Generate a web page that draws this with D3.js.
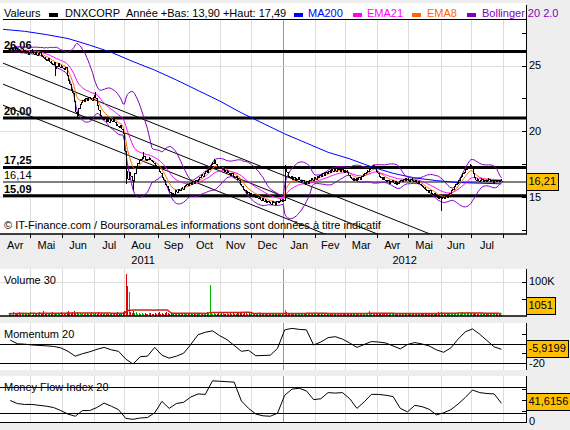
<!DOCTYPE html>
<html><head><meta charset="utf-8">
<script src="https://cdn.jsdelivr.net/npm/d3@7"></script>
<style>
html,body{margin:0;padding:0;background:#eeeeee;}
svg{display:block;font-family:"Liberation Sans",Arial,sans-serif;}
</style></head><body>
<svg id="c" width="570" height="430"></svg>
<script>
// ---------------- DATA ----------------
const calendarStart = "2011-04-05", calendarEnd = "2012-08-23", priceStart = "2011-04-11";
const ticker = "DNXCORP";
const closes = [
26.2,26.3,26.1,26.2,26.4,26.3,26.1,26.2,26.0,26.1,
26.2,26.0,26.1,25.9,26.0,26.2,26.1,25.9,26.0,25.8,
25.9,26.0,25.8,25.7,25.6,25.5,25.4,25.6,25.3,25.2,
25.1,25.3,24.8,25.0,25.2,24.9,25.0,24.8,24.7,24.9,
24.3,23.9,23.6,23.2,22.9,22.3,21.5,21.2,21.8,22.1,
22.2,22.4,22.3,22.5,22.4,22.6,22.5,22.4,22.6,22.7,
22.5,22.0,21.6,21.2,21.0,20.9,21.1,20.8,21.0,20.7,
20.9,20.8,21.0,20.7,20.5,20.4,20.3,20.5,20.2,19.9,
18.5,17.0,16.4,16.9,16.6,16.3,16.2,16.8,17.3,17.6,
17.8,17.9,18.0,18.1,17.9,17.8,17.9,18.0,17.8,17.7,
17.6,17.4,17.3,17.2,17.0,16.8,16.5,16.3,16.0,15.8,
15.6,15.4,15.1,15.3,15.2,15.5,15.4,15.6,15.5,15.7,
15.6,15.8,15.9,16.0,15.9,16.1,16.0,16.2,16.1,16.3,
16.2,16.4,16.5,16.7,16.6,16.8,17.0,16.9,17.1,17.3,
17.5,17.6,17.8,17.5,17.3,17.2,17.3,17.1,17.2,17.0,
16.9,17.0,16.8,16.7,16.8,16.6,16.5,16.6,16.4,16.3,
16.0,15.8,15.6,15.5,15.3,15.4,15.2,15.3,15.1,15.2,
15.0,15.1,14.9,15.0,14.8,14.9,14.7,14.8,14.6,14.7,
14.6,14.5,14.7,14.6,14.5,14.7,14.6,14.7,14.8,14.7,
14.8,17.2,16.9,16.6,16.5,16.6,16.4,16.5,16.3,16.4,
16.5,16.3,16.2,16.3,16.1,16.0,16.2,16.1,16.3,16.4,
16.3,16.5,16.4,16.6,16.5,16.7,16.6,16.8,16.7,16.9,
16.8,17.0,16.9,17.1,17.0,17.1,17.0,17.2,17.1,17.0,
17.1,17.0,16.9,17.0,16.9,16.7,16.5,16.4,16.3,16.4,
16.3,16.4,16.5,16.4,16.6,16.7,16.8,16.9,17.0,17.1,
17.2,17.3,17.4,17.2,17.0,16.8,16.6,16.5,16.4,16.5,
16.3,16.2,16.3,16.1,16.2,16.3,16.1,16.2,16.0,16.1,
16.2,16.3,16.2,16.4,16.3,16.4,16.3,16.2,16.4,16.3,
16.2,16.3,16.1,16.2,16.0,15.9,15.8,15.7,15.6,15.5,
15.4,15.5,15.3,15.2,15.3,15.1,15.0,14.9,15.0,14.9,
15.0,14.9,15.1,15.0,15.2,15.3,15.5,15.6,15.8,16.0,
16.1,16.3,16.5,16.6,16.8,16.9,17.1,17.2,17.3,17.4,
17.2,16.8,16.5,16.3,16.4,16.2,16.3,16.4,16.2,16.3,
16.2,16.3,16.4,16.2,16.3,16.1,16.3,16.2,16.3,16.2,
16.3,16.21];
// [position in closes, low override, high override]
const wicks = [[32,24.2,null],[47,21.0,null],[60,null,23.0],[81,16.0,null],[86,15.5,null],
  [93,null,18.4],[142,null,17.9],[191,null,17.45],[299,13.9,null],[319,null,17.49]];
const volumesK = [
6,9,4,11,7,5,8,12,6,9, 7,5,10,6,8,13,4,7,9,6, 8,11,5,7,14,6,9,5,8,10,
12,7,6,9,5,8,11,7,6,9, 13,15,10,8,12,14,9,11,7,8, 6,9,5,8,10,7,6,11,8,5,
9,7,12,6,8,5,9,7,10,6, 8,5,7,9,6,11,8,7,9,12, 15,123,88,69,12,9,14,8,11,7,
9,6,8,5,10,7,6,9,8,5, 7,9,6,8,11,7,10,6,9,12, 8,6,9,7,5,10,8,6,9,7,
5,8,6,9,7,10,6,8,5,9, 7,6,10,8,5,9,7,11,8,91, 9,6,8,5,7,10,6,8,9,5,
7,9,6,8,5,10,7,6,9,8, 12,9,7,10,8,6,9,5,8,7, 6,8,5,9,7,6,8,5,7,9,
6,5,8,7,9,6,5,8,6,7, 8,16,11,9,7,10,8,6,9,7, 6,8,5,9,7,6,10,8,5,7,
9,6,8,7,5,10,6,8,9,7, 6,9,7,5,8,10,6,7,9,8, 7,5,9,8,6,10,7,9,8,6,
8,6,9,7,5,8,6,10,7,14, 9,7,8,6,10,9,7,8,6,9, 7,5,8,6,9,7,5,8,6,7,
6,8,5,7,9,6,8,5,7,6, 8,6,7,9,5,8,10,7,9,8, 7,9,6,8,10,7,9,11,8,12,
9,7,10,8,6,9,7,8,10,9, 8,10,7,9,11,8,10,9,12,10, 9,7,8,6,9,7,5,8,6,7,
6,8,5,7,6,8,5,7,6,5, 7,1.051];
// MA200, one reading every 15 trading days from calendar start
const ma200Step = 15;
const ma200 = [27.75,27.6,27.35,27.05,26.55,26.0,25.3,24.65,23.9,23.1,22.3,21.4,20.6,19.8,19.1,18.4,17.9,17.3,16.8,16.45,16.25,16.1,16.05,16.0];
// oscillators, one reading every 5 trading days starting 1 day after price start
const oscStep = 5, oscOffset = 1;
const momentum = [3.5,-0.3,-0.7,-1.5,-2.0,-2.4,-3.0,-4.5,-8,-13,-10.5,-8.5,-6,-4,-6.5,-8,-16,-21,-13.5,-13,
  -4,-12,-15,-13,-10,-1,9,11.5,13,8,4,-2,-8,-7,-12.5,-12.3,-12,-5,14,15.5,
  14.5,14,-1.5,1.5,6,7,4.5,0.5,-4,-1,2,1.5,0.5,-2.5,-5.5,-1,1,-0.5,-2.5,-6.5,
  -9,-4.5,4.5,12,15,9.5,3,-3.5,-5.9199];
const mfi = [48,41,39,39,37,35,32,25,17,12,25,25,32,42,35,27,7,5,8,9,
  20,46,30,41,44,56,63,62,93,92,91,90,47,30,17,13,12,19,60,74,
  76,70,50,52,66,65,66,52,30,45,62,62,60,57,30,22,37,34,28,15,
  20,27,40,55,72,66,64,63,41.6156];
// support / resistance levels
const levels = [26.06, 21.0, 17.25, 16.14, 15.09];
const levelLabels = ["26,06","20,00","17,25","16,14","15,09"];
const levelHeavy = [true, true, true, false, true];
// trend channel lines: values at calendar indices trendIdx
const trendIdx = [0, 300];
const trendlines = [[25.18, 11.99], [23.58, 10.39], [21.98, 8.79]];
const monthLabels = ["Avr","Mai","Jun","Jul","Aou","Sep","Oct","Nov","Dec","Jan","Fev","Mar","Avr","Mai","Jun","Jul"];
const firstMonth = "2011-04-01";
const yearLabels = ["2011","2012"];
const priceTicks = [12.5,15,17.5,20,22.5,25,27.5], priceLabels = [15,20,25];
const volTicks = [50,100], volLabels = [100];
const momTicks = [10,0,-10,-20], momLabels = [-20];
const mfiTicks = [0,25,50,75], mfiLabels = [0];

// ---------------- LAYOUT ----------------
const svg = d3.select("#c");
const parse = d3.utcParse("%Y-%m-%d"), fmt = d3.utcFormat("%Y-%m-%d");
const isWk = d => d.getUTCDay() % 6 !== 0;
const cs = parse(calendarStart);
const days = d3.utcDays(cs, d3.utcDay.offset(parse(calendarEnd), 1)).filter(isWk);
const N = days.length;
const R = 526;
const xi = d3.scaleLinear().domain([0, N - 1]).range([3, R]);
const p0 = days.map(fmt).indexOf(priceStart);
const wkIndex = m => m >= cs ? d3.utcDays(cs, m).filter(isWk).length : -d3.utcDays(m, cs).filter(isWk).length;

const P = {main:{top:3, plot:20, bottom:234}, vol:{top:269,bottom:316}, mom:{top:323,bottom:370}, mfi:{top:376,bottom:423}};
const y = d3.scaleLinear().domain([15,25]).range([197,65.5]);
const yv = d3.scaleLinear().domain([0,100]).range([316,281.5]);
const ym = d3.scaleLinear().domain([-20,0]).range([363,343.5]);
const yf = d3.scaleLinear().domain([0,80]).range([421.5,386.5]);

const font = 11;
const comma = (v, d) => v.toFixed(d).replace(".", ",");

// derived series
const data = closes.map((c, j) => ({i: p0 + j, close: c, open: j ? closes[j-1] : c, vol: volumesK[j]}));
data.forEach(d => { d.hi = Math.max(d.open, d.close); d.lo = Math.min(d.open, d.close); });
wicks.forEach(([j, lo, hi]) => { if (lo != null) data[j].lo = lo; if (hi != null) data[j].hi = hi; });
function ema(arr, n){ const a = 2/(n+1); let e = arr[0]; return arr.map(v => (e = e + a*(v-e))); }
const ema8 = ema(closes, 8), ema21 = ema(closes, 21);
const boll = closes.map((c, j) => { const w = closes.slice(Math.max(0, j-19), j+1); const m = d3.mean(w);
  const s = Math.sqrt(d3.mean(w, v => (v-m)*(v-m))); return {up: m + 2*s, dn: m - 2*s}; });
const volMA = volumesK.map((v, j) => d3.mean(volumesK.slice(Math.max(0, j-29), j+1)));

// month boundaries
const months = d3.utcMonths(parse(firstMonth), d3.utcMonth.offset(parse(firstMonth), monthLabels.length + 1));
const mIdx = months.map(wkIndex);
const bounds = mIdx.slice(1).filter(b => b > 0 && b < N);
const yearIdx = wkIndex(parse("2012-01-01"));

// ---------------- PANELS ----------------
function panelBg(p, top){ svg.append("rect").attr("x",0).attr("y",top).attr("width",R).attr("height",p.bottom-top).attr("fill","#fff"); }
panelBg(P.main, P.main.top); panelBg(P.vol, P.vol.top); panelBg(P.mom, P.mom.top); panelBg(P.mfi, P.mfi.top);
function vgrid(top, bottom){
  svg.append("g").selectAll("line").data(bounds).join("line")
    .attr("x1", b => Math.round(xi(b))+0.5).attr("x2", b => Math.round(xi(b))+0.5)
    .attr("y1", top).attr("y2", bottom)
    .attr("stroke", b => b === yearIdx ? "#999" : "#dddddd").attr("stroke-width",1);
}
vgrid(P.main.plot, P.main.bottom); vgrid(P.vol.top, P.vol.bottom); vgrid(P.mom.top, P.mom.bottom); vgrid(P.mfi.top, P.mfi.bottom);

// ---------- MAIN PANEL ----------
svg.append("g").selectAll("line").data(priceLabels).join("line")
  .attr("x1",0).attr("x2",R).attr("y1",v=>Math.round(y(v))+0.5).attr("y2",v=>Math.round(y(v))+0.5).attr("stroke","#dddddd");
svg.append("defs").append("clipPath").attr("id","clipMain").append("rect").attr("x",0).attr("y",P.main.plot).attr("width",R).attr("height",P.main.bottom-P.main.plot);
const gm = svg.append("g").attr("clip-path","url(#clipMain)");

gm.append("text").attr("x",4).attr("y",229).attr("font-size",font).attr("fill","#000")
  .text("© IT-Finance.com / BoursoramaLes informations sont données à titre indicatif");

// levels
gm.append("g").selectAll("line").data(levels).join("line")
  .attr("x1",3).attr("x2",R).attr("y1",v=>y(v)).attr("y2",v=>y(v))
  .attr("stroke","#000").attr("stroke-width",(v,k)=>levelHeavy[k]?3:1);
svg.append("g").selectAll("text").data(levels).join("text")
  .attr("x",4).attr("y",v=>y(v)-3).attr("font-size",font).attr("font-weight",(v,k)=>levelHeavy[k]?"bold":"normal")
  .text((v,k)=>levelLabels[k]);

// trend lines
gm.append("g").selectAll("line").data(trendlines).join("line")
  .attr("x1",xi(trendIdx[0])).attr("x2",xi(trendIdx[1])).attr("y1",t=>y(t[0])).attr("y2",t=>y(t[1]))
  .attr("stroke","#000").attr("stroke-width",1);

const line = (xf, yf2) => d3.line().x(xf).y(yf2);
gm.append("path").datum(ma200).attr("fill","none").attr("stroke","#0000ff").attr("stroke-width",1)
  .attr("d", line((v,k)=>xi(k*ma200Step), v=>y(v)));
gm.append("path").datum(boll).attr("fill","none").attr("stroke","#8000c0").attr("stroke-width",1)
  .attr("d", line((b,j)=>xi(p0+j), b=>y(b.up)));
gm.append("path").datum(boll).attr("fill","none").attr("stroke","#8000c0").attr("stroke-width",1)
  .attr("d", line((b,j)=>xi(p0+j), b=>y(b.dn)));
gm.append("path").datum(ema21).attr("fill","none").attr("stroke","#ff00ff").attr("stroke-width",1)
  .attr("d", line((v,j)=>xi(p0+j), v=>y(v)));
gm.append("path").datum(ema8).attr("fill","none").attr("stroke","#ff6600").attr("stroke-width",1)
  .attr("d", line((v,j)=>xi(p0+j), v=>y(v)));

// price bars
const gb = gm.append("g").attr("stroke","#000").attr("stroke-width",1).attr("shape-rendering","crispEdges");
data.forEach(d => {
  const xx = Math.round(xi(d.i)) + 0.5;
  let y1 = y(d.hi), y2 = y(d.lo);
  if (y2 - y1 < 2) { const c = (y1+y2)/2; y1 = c-1; y2 = c+1; }
  gb.append("line").attr("x1",xx).attr("x2",xx).attr("y1",y1).attr("y2",y2);
  gb.append("line").attr("x1",xx).attr("x2",xx+1.5).attr("y1",Math.round(y(d.close))+0.5).attr("y2",Math.round(y(d.close))+0.5);
  gb.append("line").attr("x1",xx-1.5).attr("x2",xx).attr("y1",Math.round(y(d.open))+0.5).attr("y2",Math.round(y(d.open))+0.5);
});

// header
svg.append("line").attr("x1",3).attr("x2",R).attr("y1",19.5).attr("y2",19.5).attr("stroke","#000");
const y2012 = data.filter(d => d.i >= yearIdx);
const hdr = [
  {x:4, t:"Valeurs", c:"#000"},
  {x:49, sw:"#000"}, {x:65, t:ticker, c:"#000"},
  {x:126, t:"Année +Bas: " + comma(d3.min(y2012,d=>d.lo),2) + " +Haut: " + comma(d3.max(y2012,d=>d.hi),2), c:"#000"},
  {x:294, sw:"#0000ff"}, {x:308, t:"MA200", c:"#0000ff"},
  {x:353, sw:"#ff00ff"}, {x:367, t:"EMA21", c:"#ff00ff"},
  {x:412, sw:"#ff6600"}, {x:427, t:"EMA8", c:"#ff6600"},
  {x:467, sw:"#8000c0"}, {x:482, t:"Bollinger 20 2.0", c:"#8000c0"}];
hdr.forEach(h => {
  if (h.sw) svg.append("rect").attr("x",h.x).attr("y",13).attr("width",9).attr("height",4).attr("fill",h.sw);
  else svg.append("text").attr("x",h.x).attr("y",17).attr("font-size",font).attr("fill",h.c).text(h.t);
});

// ---------- axes ----------
function rightAxis(top, bottom, scale, ticks, labels, fmtf){
  svg.append("line").attr("x1",R+0.5).attr("x2",R+0.5).attr("y1",top).attr("y2",bottom).attr("stroke","#000");
  svg.append("g").selectAll("line").data(ticks).join("line")
    .attr("x1",R-4).attr("x2",R).attr("y1",v=>Math.round(scale(v))+0.5).attr("y2",v=>Math.round(scale(v))+0.5).attr("stroke","#000");
  svg.append("g").selectAll("text").data(labels).join("text")
    .attr("x",R+3).attr("y",v=>scale(v)).attr("dy","0.36em").attr("font-size",font).text(fmtf);
}
function valueBox(txt, yc){
  const g = svg.append("g");
  const t = g.append("text").attr("x",R+2.5).attr("y",yc).attr("dy","0.36em").attr("font-size",font).text(txt);
  const w = t.node().getComputedTextLength();
  g.insert("rect","text").attr("x",R+0.5).attr("y",Math.round(yc-8.5)+0.5).attr("width",Math.ceil(w)+4).attr("height",17)
    .attr("fill","#ffc000").attr("stroke","#000");
}
rightAxis(P.main.top+2, P.main.bottom, y, priceTicks, priceLabels, v=>v);
svg.append("line").attr("x1",0).attr("x2",R+1).attr("y1",P.main.bottom).attr("y2",P.main.bottom).attr("stroke","#000").attr("stroke-width",1.5);
svg.append("g").selectAll("line").data(bounds).join("line")
  .attr("x1",b=>Math.round(xi(b))+0.5).attr("x2",b=>Math.round(xi(b))+0.5).attr("y1",P.main.bottom).attr("y2",P.main.bottom+4).attr("stroke","#000");
svg.append("g").selectAll("text").data(monthLabels).join("text")
  .attr("x",(m,k)=>xi((mIdx[k]+mIdx[k+1])/2)).attr("y",249).attr("text-anchor","middle").attr("font-size",font).text(m=>m);
const yearSpans = [[0, yearIdx], [yearIdx, N-1]];
svg.append("g").selectAll("text").data(yearLabels).join("text")
  .attr("x",(t,k)=>(xi(yearSpans[k][0])+xi(yearSpans[k][1]))/2).attr("y",264).attr("text-anchor","middle").attr("font-size",font).text(t=>t);
valueBox(comma(closes[closes.length-1],2), y(closes[closes.length-1]));

// ---------- VOLUME ----------
svg.append("line").attr("x1",0).attr("x2",R).attr("y1",Math.round(yv(100))+0.5).attr("y2",Math.round(yv(100))+0.5).attr("stroke","#dddddd");
svg.append("g").attr("shape-rendering","crispEdges").selectAll("line").data(data).join("line")
  .attr("x1",d=>Math.round(xi(d.i))+0.5).attr("x2",d=>Math.round(xi(d.i))+0.5)
  .attr("y1",yv(0)).attr("y2",d=>Math.min(yv(0)-1.5, yv(d.vol)))
  .attr("stroke",d=>d.close>=d.open?"#00bb00":"#e00000");
svg.append("path").datum(volMA).attr("fill","none").attr("stroke","#cc2020").attr("stroke-width",1.5)
  .attr("d", line((v,j)=>xi(p0+j), v=>yv(v)));
svg.append("line").attr("x1",0).attr("x2",R+1).attr("y1",P.vol.bottom).attr("y2",P.vol.bottom).attr("stroke","#000").attr("stroke-width",1.5);
svg.append("text").attr("x",4).attr("y",P.vol.top+15).attr("font-size",font).text("Volume 30");
rightAxis(P.vol.top, P.vol.bottom, yv, volTicks, volLabels, v=>v+"K");
const lastVol = volumesK[volumesK.length-1];
valueBox(String(Math.round(lastVol*1000)), Math.min(yv(lastVol), P.vol.bottom-11));

// ---------- MOMENTUM ----------
[0,-20].forEach(v => svg.append("line").attr("x1",0).attr("x2",R).attr("y1",Math.round(ym(v))+0.5).attr("y2",Math.round(ym(v))+0.5).attr("stroke","#000"));
svg.append("path").datum(momentum).attr("fill","none").attr("stroke","#000").attr("stroke-width",1)
  .attr("d", line((v,k)=>xi(p0+oscOffset+k*oscStep), v=>ym(v)));
svg.append("text").attr("x",4).attr("y",P.mom.top+15).attr("font-size",font).text("Momentum 20");
rightAxis(P.mom.top, P.mom.bottom, ym, momTicks, momLabels, v=>v);
valueBox(comma(momentum[momentum.length-1],4), ym(momentum[momentum.length-1]) - 1);

// ---------- MFI ----------
[80,20,0].forEach(v => svg.append("line").attr("x1",0).attr("x2",R).attr("y1",Math.round(yf(v))+0.5).attr("y2",Math.round(yf(v))+0.5).attr("stroke","#000"));
svg.append("path").datum(mfi).attr("fill","none").attr("stroke","#000").attr("stroke-width",1)
  .attr("d", line((v,k)=>xi(p0+oscOffset+k*oscStep), v=>yf(v)));
svg.append("text").attr("x",4).attr("y",P.mfi.top+15).attr("font-size",font).text("Money Flow Index 20");
rightAxis(P.mfi.top, P.mfi.bottom, yf, mfiTicks, mfiLabels, v=>v);
valueBox(comma(mfi[mfi.length-1],4), yf(mfi[mfi.length-1]) - 2);
</script>
</body></html>
